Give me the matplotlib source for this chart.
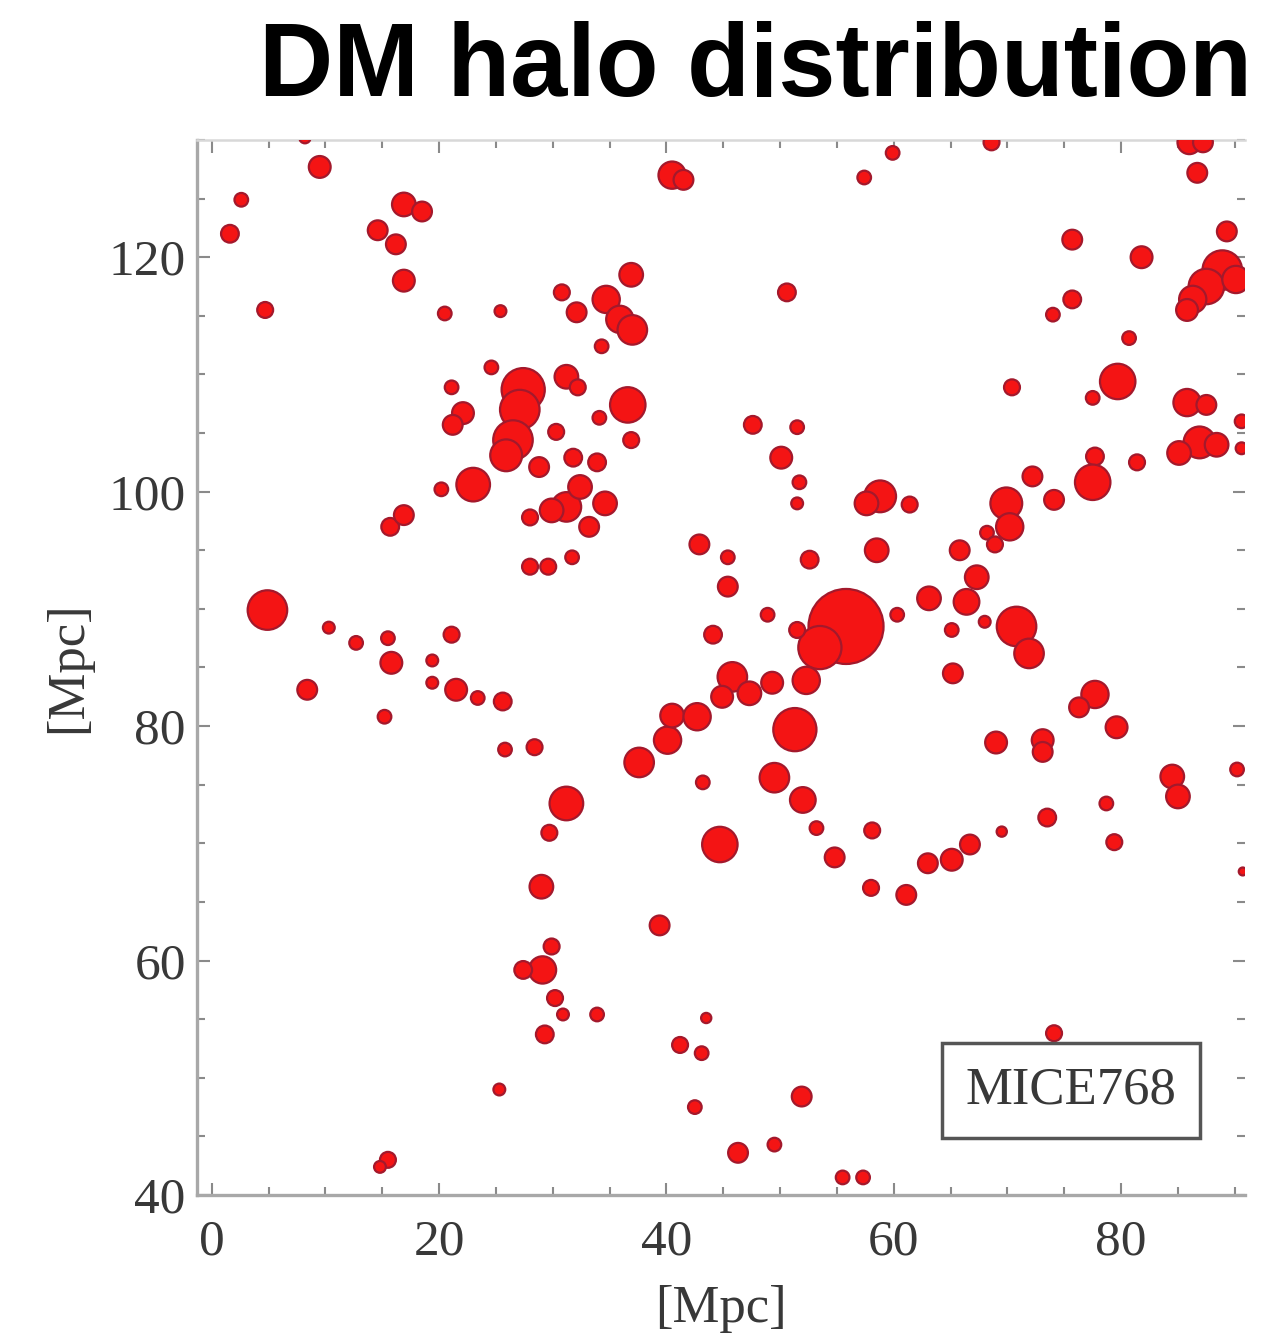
import matplotlib

matplotlib.use("Agg")
import matplotlib.pyplot as plt
from matplotlib.ticker import MultipleLocator
import numpy as np

halo_x = [
    8.2, 9.5, 2.6, 1.6, 4.7, 14.6, 16.2, 16.9, 18.5, 16.9, 20.5, 25.4,
    40.5, 41.5, 36.9, 30.8, 32.1, 34.7, 35.9, 37.0, 34.3, 50.6, 24.6, 21.1,
    22.1, 21.2, 27.4, 27.1, 26.5, 25.9, 28.8, 31.2, 32.2, 36.6, 34.1, 36.9,
    30.3, 31.8, 33.9, 23.0, 20.2, 31.2, 32.4, 34.6, 33.2, 28.0, 29.9, 47.6,
    51.5, 50.1, 51.7, 51.5, 59.9, 57.4, 68.6, 86.0, 87.2, 86.7, 75.7, 81.8,
    89.3, 88.9, 87.5, 86.3, 85.8, 90.1, 75.7, 74.0, 80.7, 79.7, 77.5, 70.4,
    85.8, 87.5, 90.6, 86.9, 88.4, 85.1, 90.6, 81.4, 77.7, 77.5, 74.1, 69.9,
    72.2, 70.2, 58.8, 57.6, 61.4, 68.2, 4.9, 10.3, 12.7, 15.5, 15.8, 8.4,
    15.2, 15.7, 16.9, 28.0, 29.6, 31.7, 42.9, 45.4, 52.6, 45.4, 48.9, 44.1,
    21.1, 19.4, 19.4, 21.5, 23.4, 25.6, 28.4, 25.8, 31.2, 29.7, 29.0, 39.4,
    37.6, 40.1, 40.5, 42.7, 45.8, 47.3, 49.3, 44.9, 51.3, 55.8, 53.5, 52.3,
    51.5, 43.2, 49.5, 52.0, 44.7, 53.2, 54.8, 58.5, 65.8, 68.9, 63.1, 67.3,
    66.4, 60.3, 65.1, 68.0, 70.8, 71.9, 65.2, 77.7, 76.3, 79.6, 69.0, 73.1,
    73.1, 84.5, 85.0, 90.2, 78.7, 58.1, 69.5, 73.5, 79.4, 66.7, 65.1, 63.0,
    58.0, 61.1, 90.7, 15.5, 14.8, 29.9, 29.1, 27.4, 30.2, 30.9, 33.9, 29.3,
    25.3, 43.5, 41.2, 43.1, 42.5, 51.9, 46.3, 49.5, 55.5, 57.3, 74.1,
]
halo_y = [
    130.2, 127.7, 124.9, 122.0, 115.5, 122.3, 121.1, 124.5, 123.9, 118.0, 115.2, 115.4,
    127.0, 126.6, 118.5, 117.0, 115.3, 116.4, 114.7, 113.8, 112.4, 117.0, 110.6, 108.9,
    106.7, 105.7, 108.7, 107.0, 104.4, 103.1, 102.1, 109.8, 108.9, 107.4, 106.3, 104.4,
    105.1, 102.9, 102.5, 100.6, 100.2, 98.7, 100.4, 99.0, 97.0, 97.8, 98.4, 105.7,
    105.5, 102.9, 100.8, 99.0, 128.9, 126.8, 129.8, 129.8, 129.8, 127.2, 121.5, 120.0,
    122.2, 118.9, 117.5, 116.4, 115.5, 118.1, 116.4, 115.1, 113.1, 109.4, 108.0, 108.9,
    107.6, 107.4, 106.0, 104.2, 104.0, 103.3, 103.7, 102.5, 103.0, 100.8, 99.3, 99.0,
    101.3, 97.0, 99.6, 99.0, 98.9, 96.5, 89.9, 88.4, 87.1, 87.5, 85.4, 83.1,
    80.8, 97.0, 98.0, 93.6, 93.6, 94.4, 95.5, 94.4, 94.2, 91.9, 89.5, 87.8,
    87.8, 85.6, 83.7, 83.1, 82.4, 82.1, 78.2, 78.0, 73.4, 70.9, 66.3, 63.0,
    76.9, 78.8, 80.9, 80.8, 84.2, 82.8, 83.7, 82.5, 79.7, 88.5, 86.7, 83.9,
    88.2, 75.2, 75.6, 73.7, 69.9, 71.3, 68.8, 95.0, 95.0, 95.5, 90.9, 92.7,
    90.6, 89.5, 88.2, 88.9, 88.5, 86.2, 84.5, 82.7, 81.6, 79.9, 78.6, 78.8,
    77.8, 75.7, 74.0, 76.3, 73.4, 71.1, 71.0, 72.2, 70.1, 69.9, 68.6, 68.3,
    66.2, 65.6, 67.6, 43.0, 42.4, 61.2, 59.2, 59.2, 56.8, 55.4, 55.4, 53.7,
    49.0, 55.1, 52.8, 52.1, 47.5, 48.4, 43.6, 44.3, 41.5, 41.5, 53.8,
]
halo_r = [
    0.50, 0.96, 0.60, 0.78, 0.70, 0.87, 0.87, 1.04, 0.87, 0.96, 0.60, 0.52,
    1.20, 0.87, 1.04, 0.70, 0.87, 1.20, 1.20, 1.30, 0.60, 0.78, 0.60, 0.60,
    0.96, 0.87, 1.90, 1.74, 1.74, 1.40, 0.87, 1.04, 0.70, 1.56, 0.60, 0.70,
    0.70, 0.78, 0.78, 1.48, 0.60, 1.30, 1.04, 1.04, 0.87, 0.70, 1.04, 0.78,
    0.60, 0.96, 0.60, 0.52, 0.60, 0.60, 0.70, 1.04, 0.87, 0.87, 0.87, 0.96,
    0.87, 1.74, 1.56, 1.20, 0.96, 1.20, 0.78, 0.60, 0.60, 1.56, 0.60, 0.70,
    1.20, 0.87, 0.60, 1.40, 1.04, 1.04, 0.52, 0.70, 0.78, 1.56, 0.87, 1.40,
    0.87, 1.20, 1.40, 1.04, 0.70, 0.60, 1.74, 0.52, 0.60, 0.60, 0.96, 0.87,
    0.60, 0.78, 0.87, 0.70, 0.70, 0.60, 0.87, 0.60, 0.78, 0.87, 0.60, 0.78,
    0.70, 0.52, 0.52, 0.96, 0.60, 0.78, 0.70, 0.60, 1.48, 0.70, 1.04, 0.87,
    1.30, 1.20, 1.04, 1.20, 1.30, 1.04, 0.96, 0.96, 1.90, 3.30, 1.90, 1.20,
    0.70, 0.60, 1.30, 1.13, 1.56, 0.60, 0.87, 1.04, 0.87, 0.70, 1.04, 1.04,
    1.13, 0.60, 0.60, 0.52, 1.74, 1.30, 0.87, 1.20, 0.87, 0.96, 0.96, 0.96,
    0.87, 1.04, 1.04, 0.60, 0.60, 0.70, 0.45, 0.78, 0.70, 0.87, 0.96, 0.87,
    0.70, 0.87, 0.35, 0.70, 0.52, 0.70, 1.20, 0.78, 0.70, 0.52, 0.60, 0.78,
    0.52, 0.45, 0.70, 0.60, 0.60, 0.87, 0.87, 0.60, 0.60, 0.60, 0.70,
]

x_ticks = [0, 20, 40, 60, 80]
y_ticks = [40, 60, 80, 100, 120]
axis_label = "[Mpc]"
box_label = "MICE768"
title = "DM halo distribution"

SERIF = ["Liberation Serif", "DejaVu Serif"]
DPI = 100


def main():
    fig = plt.figure(figsize=(12.65, 13.37), dpi=DPI)
    ax = fig.add_axes([0.1557, 0.1062, 0.8285, 0.7891])
    ax.set_xlim(-1.3, 90.9)
    ax.set_ylim(40, 130)

    # marker radius in points from the data scale of the axes
    bbox = ax.get_window_extent()
    px_per_mpc = bbox.width / (90.9 + 1.3)
    r_pt = np.asarray(halo_r) * px_per_mpc * 72.0 / DPI
    sizes = (2.0 * r_pt) ** 2
    ax.scatter(halo_x, halo_y, s=sizes, facecolor="#f41414", edgecolor="#a3192c",
               linewidth=1.6, zorder=3, clip_on=True)

    ax.set_xticks(x_ticks)
    ax.set_yticks(y_ticks)
    ax.xaxis.set_minor_locator(MultipleLocator(5))
    ax.yaxis.set_minor_locator(MultipleLocator(5))
    ax.tick_params(which="both", direction="in", top=True, right=True, color="#8a8a8a", width=1.5)
    ax.tick_params(which="major", length=9)
    ax.tick_params(which="minor", length=6)
    ax.tick_params(axis="both", labelsize=37, labelcolor="#383838")
    ax.tick_params(axis="x", pad=17)
    ax.tick_params(axis="y", pad=8)
    for label in ax.get_xticklabels() + ax.get_yticklabels():
        label.set_family(SERIF)

    for side in ("left", "bottom"):
        ax.spines[side].set_color("#a8a8a8")
        ax.spines[side].set_linewidth(2.4)
    ax.spines["top"].set_color("#d8d8d8")
    ax.spines["top"].set_linewidth(1.8)
    ax.spines["right"].set_visible(False)

    ax.set_xlabel(axis_label, family=SERIF, fontsize=38, color="#383838", labelpad=14)
    ax.set_ylabel(axis_label, family=SERIF, fontsize=38, color="#383838", labelpad=12)

    ax.text(0.834, 0.099, box_label, transform=ax.transAxes, ha="center", va="center",
            family=SERIF, fontsize=38, color="#383838", zorder=5,
            bbox=dict(boxstyle="square,pad=0.45", facecolor="white", edgecolor="#555555", linewidth=2.5))

    fig.text(0.99, 0.928, title, ha="right", va="baseline", fontsize=74,
             fontweight="bold", family=["Liberation Sans", "DejaVu Sans"])

    fig.savefig("out.png", dpi=DPI, facecolor="white")
    plt.close(fig)


if __name__ == "__main__":
    main()
